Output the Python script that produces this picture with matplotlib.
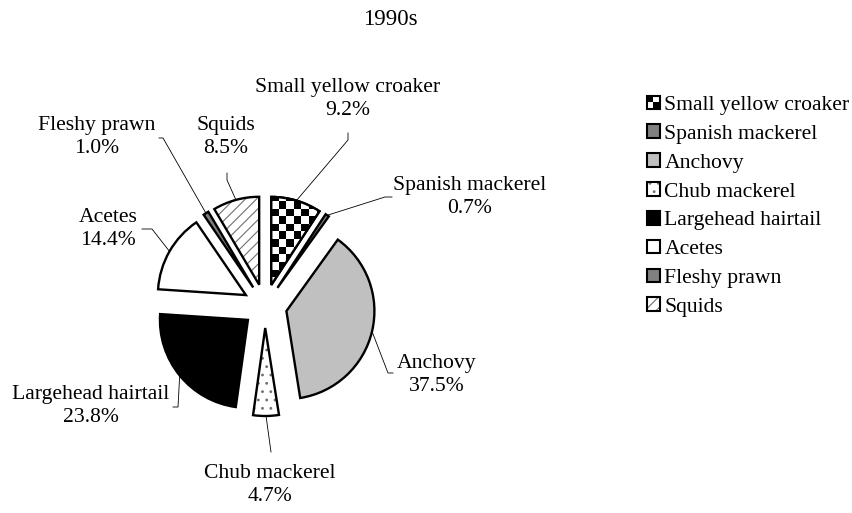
import numpy as np
import matplotlib
matplotlib.use("Agg")
import matplotlib.pyplot as plt
from matplotlib.patches import Wedge, Rectangle, Patch
from matplotlib.legend_handler import HandlerBase, HandlerTuple

plt.rcParams['font.family'] = ['Liberation Serif', 'DejaVu Serif']
plt.rcParams['hatch.linewidth'] = 0.8

# ---------------- data ----------------
title = "1990s"
categories = ["Small yellow croaker", "Spanish mackerel", "Anchovy", "Chub mackerel",
              "Largehead hairtail", "Acetes", "Fleshy prawn", "Squids"]
shares = [9.2, 0.7, 37.5, 4.7, 23.8, 14.4, 1.0, 8.5]

# ---------------- style / layout ----------------
W, H = 853, 513
FS = 15.6
face = ['white', '#808080', '#c0c0c0', 'white', 'black', 'white', '#808080', 'white']
hatches = [None, None, None, '..', None, None, None, '///']
LW = 1.7

fig = plt.figure(figsize=(W / 100, H / 100), dpi=100)
ax = fig.add_axes([0, 0, 1, 1])

R = 88
CX, CY = 265, H - 306
wedges, _ = ax.pie(shares, startangle=90, counterclock=False, radius=R, center=(CX, CY),
                   explode=[0.25 * R] * len(shares), colors=face,
                   wedgeprops=dict(edgecolor='black', linewidth=LW))

# hatched wedges: gray hatch + black outline
for w, h in zip(wedges, hatches):
    if h:
        w.set_hatch(h)
        w.set_edgecolor('#707070')
        w.set_linewidth(0)

# checkerboard for first wedge
w0 = wedges[0]
s = 7.6
vx, vy = w0.center
nx, ny = 16, 16
checker = (np.add.outer(np.arange(ny), np.arange(nx)) % 2)
im = ax.imshow(checker, cmap='gray_r', interpolation='nearest', origin='lower',
               extent=(vx, vx + nx * s, vy - 2 * s, vy - 2 * s + ny * s),
               vmin=0, vmax=1, zorder=2)
im.set_clip_path(w0)

for i in (0, 3, 7):
    w = wedges[i]
    ax.add_patch(Wedge(w.center, w.r, w.theta1, w.theta2, fill=False,
                       ec='black', lw=LW, zorder=3))

# labels and leader lines (image coordinates, y downward)
label_pos = [(348, 99), (470, 197), (437, 375), (270, 485),
             (91, 406), (108, 229), (97, 137), (226, 137)]
elbows = [[(348, 133), (348, 140)],
          [(392, 197), (385, 197)],
          [(393, 373), (388, 373)],
          [(271, 452)],
          [(173, 407), (178, 407)],
          [(142, 229), (152, 229)],
          [(159, 138), (163, 138)],
          [(227, 173), (227, 180)]]

for i, (w, cat, v) in enumerate(zip(wedges, categories, shares)):
    lx, ly = label_pos[i]
    ax.text(lx, H - ly, f"{cat}\n{v:.1f}%", ha='center', va='center',
            fontsize=FS, linespacing=1.35, zorder=5)
    mid = np.deg2rad((w.theta1 + w.theta2) / 2)
    ax_ = w.center[0] + w.r * np.cos(mid)
    ay_ = w.center[1] + w.r * np.sin(mid)
    pts = [(x, H - y) for x, y in elbows[i]] + [(ax_, ay_)]
    xs, ys = zip(*pts)
    ax.plot(xs, ys, color='black', lw=0.6, zorder=4)

ax.text(390, H - 19, title, ha='center', va='center', fontsize=16.5)


# legend
class HandlerChecker(HandlerBase):
    def create_artists(self, legend, orig_handle, xdescent, ydescent, width, height,
                       fontsize, trans):
        x0, y0 = -xdescent, -ydescent
        arts = [Rectangle((x0, y0), width, height, fc='white', ec='none', transform=trans)]
        hw, hh = width / 2, height / 2
        arts.append(Rectangle((x0, y0 + hh), hw, hh, fc='black', ec='none', transform=trans))
        arts.append(Rectangle((x0 + hw, y0), hw, hh, fc='black', ec='none', transform=trans))
        arts.append(Rectangle((x0, y0), width, height, fill=False, ec='black', lw=1.5,
                              transform=trans))
        return arts


handles = []
handler_map = {}
for i, cat in enumerate(categories):
    if i == 0:
        hnd = Patch(facecolor='white', edgecolor='black')
        handler_map[hnd] = HandlerChecker()
    elif hatches[i]:
        hnd = (Patch(facecolor='white', edgecolor='#707070', hatch=hatches[i], lw=0),
               Patch(fill=False, edgecolor='black', lw=1.5))
    else:
        hnd = Patch(facecolor=face[i], edgecolor='black', lw=1.5)
    handles.append(hnd)
handler_map[tuple] = HandlerTuple(ndivide=1)

leg = ax.legend(handles, categories, handler_map=handler_map, loc='upper left',
                bbox_to_anchor=(647 / W, 1 - 95.5 / H), bbox_transform=fig.transFigure,
                frameon=False, fontsize=FS, borderpad=0, borderaxespad=0,
                handlelength=0.6, handleheight=0.6, handletextpad=0.2,
                labelspacing=0.43)

ax.set_xlim(0, W)
ax.set_ylim(0, H)
ax.set_aspect('equal')
ax.set_axis_off()

fig.savefig("out.png", dpi=100)
